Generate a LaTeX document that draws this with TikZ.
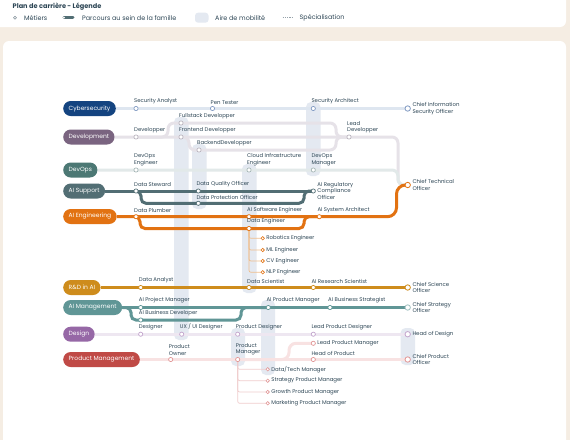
\documentclass[tikz,border=0pt]{standalone}
\usepackage{fontspec}
\setmainfont{Poppins}
\usepackage{tikz}
\usetikzlibrary{positioning,calc}
\definecolor{paper}{RGB}{245,237,227}
\definecolor{ink}{RGB}{45,70,85}
\definecolor{mobility}{RGB}{228,233,241}
\definecolor{cyberC}{RGB}{20,68,128}
\definecolor{devC}{RGB}{122,100,128}
\definecolor{devopsC}{RGB}{76,120,116}
\definecolor{supportC}{RGB}{82,110,116}
\definecolor{aiengC}{RGB}{226,114,18}
\definecolor{rndC}{RGB}{206,140,28}
\definecolor{mgmtC}{RGB}{96,150,150}
\definecolor{designC}{RGB}{150,104,166}
\definecolor{pmC}{RGB}{192,74,70}
\definecolor{cyberL}{RGB}{222,230,240}
\definecolor{devL}{RGB}{230,226,232}
\definecolor{devopsL}{RGB}{226,233,233}
\definecolor{designL}{RGB}{238,231,241}
\definecolor{pmL}{RGB}{248,226,226}
\definecolor{cyberR}{RGB}{130,155,195}
\definecolor{devR}{RGB}{185,180,190}
\definecolor{devopsR}{RGB}{165,182,182}
\definecolor{designR}{RGB}{195,165,205}
\definecolor{pmR}{RGB}{225,150,150}
\definecolor{specO}{RGB}{240,190,140}
\definecolor{specP}{RGB}{240,205,205}
\pgfdeclarelayer{paperlayer}
\pgfdeclarelayer{bars}
\pgfdeclarelayer{lines}
\pgfsetlayers{paperlayer,bars,lines,main}

\begin{document}
\begin{tikzpicture}[x=1pt, y=-1pt,
    every node/.style={font=\fontsize{5.4}{6.4}\selectfont, text=ink},
    family/.style={fill=#1, text=white, rounded corners=7.5pt, minimum height=15pt,
        inner xsep=5.5pt, inner ysep=0pt, anchor=west, font=\fontsize{6}{7}\selectfont},
    job/.style={circle, draw=#1, fill=white, line width=0.7pt, inner sep=0pt, minimum size=4.2pt},
    chief/.style={job=#1, minimum size=5.4pt, line width=0.8pt},
    spec/.style={job=#1, minimum size=3.4pt, line width=0.6pt},
    tlab/.style={label={[anchor=south west, inner sep=0pt, xshift=-2pt, yshift=1.5pt, align=left]north:#1}},
    rlab/.style={label={[anchor=west, inner sep=0pt, xshift=1.5pt, align=left]east:#1}},
    legtext/.style={anchor=west, inner sep=0pt, font=\fontsize{6.4}{7.5}\selectfont},
    track/.style={line width=3pt, draw=#1, rounded corners=6pt},
    branch/.style={line width=0.7pt, draw=#1, rounded corners=2pt},
    area/.style={fill=mobility, rounded corners=5pt},
]
\useasboundingbox (0,0) rectangle (570,440);

% Paper and panels
\begin{pgfonlayer}{paperlayer}
\fill[paper] (0,0) rectangle (570,440);
\fill[white, rounded corners=6pt] (-10,-10) rectangle (566,27);
\fill[white, rounded corners=6pt] (3,41) rectangle (566,460);
\end{pgfonlayer}

% Legend
\node[legtext, font=\fontsize{6.6}{7.5}\selectfont\bfseries] (legtitle) at (12.5,7) {Plan de carrière - Légende};
\draw[ink!60, line width=0.5pt] (15,17.7) circle (1.5pt);
\node[legtext] (legjobs) at (24,17.9) {Métiers};
\draw[supportC, line width=3pt, line cap=round] (64,17.7) -- (73,17.7);
\fill[white] (64,17.7) circle (1pt);
\node[legtext] (legpath) at (82,17.9) {Parcours au sein de la famille};
\fill[mobility, rounded corners=3pt] (195,12.7) rectangle (208.5,22.7);
\node[legtext] (legarea) at (215,17.9) {Aire de mobilité};
\draw[ink!50, line width=0.4pt, dash pattern=on 1.3pt off 1pt] (282.5,17.3) -- (292,17.3);
\node[legtext] (legspec) at (299.5,17.9) {Spécialisation};

% Mobility areas
\begin{pgfonlayer}{bars}
\fill[area] (174,117) rectangle (188.5,340);
\fill[area] (192,144) rectangle (206.5,209);
\fill[area] (242,164) rectangle (256.5,293);
\fill[area] (306,102) rectangle (320.5,176);
\fill[area] (231,328) rectangle (245,366);
\fill[area] (261,300) rectangle (275,375);
\fill[area] (400.5,328) rectangle (415,365);
\end{pgfonlayer}

% Families
\node[family=cyberC] (cyber) at (63,108.5) {Cybersecurity};
\node[family=devC] (dev) at (63,137) {Development};
\node[family=devopsC] (devops) at (63,170) {DevOps};
\node[family=supportC] (aisup) at (63,191) {AI Support};
\node[family=aiengC] (aieng) at (63,216.5) {AI Engineering};
\node[family=rndC] (rnd) at (63,287.5) {R\&D in AI};
\node[family=mgmtC] (aimgmt) at (63,307.5) {AI Management};
\node[family=designC] (design) at (63,334.2) {Design};
\node[family=pmC] (prodmgmt) at (63,359.5) {Product Management};

% Cybersecurity
\node[job=cyberR, tlab={Security Analyst}] (secanalyst) at (136,108.5) {};
\node[job=cyberR, tlab={Pen Tester}] (pentester) at (212.5,108.5) {};
\node[job=cyberR, tlab={Security Architect}] (secarch) at (313.3,108.5) {};
\node[chief=cyberR, rlab={Chief Information\\Security Officer}] (ciso) at (407.7,108.5) {};

% Development
\node[job=devR, tlab={Developper}] (developper) at (136,137) {};
\node[job=devR, tlab={Fullstack Developper}] (fullstack) at (181,123) {};
\node[job=devR, tlab={Frontend Developper}] (frontend) at (181,137) {};
\node[job=devR, tlab={BackendDevelopper}] (backend) at (199,150) {};
\node[job=devR, tlab={Lead\\Developper}] (leaddev) at (349,137) {};
\node[chief=aiengC, rlab={Chief Technical\\Officer}] (cto) at (407.7,185) {};

% DevOps
\node[job=devopsR, tlab={DevOps\\Engineer}] (devopseng) at (136,170) {};
\node[job=devopsR, tlab={Cloud Infrastructure\\Engineer}] (cloudeng) at (249,170) {};
\node[job=devopsR, tlab={DevOps\\Manager}] (devopsmgr) at (313.3,170) {};

% AI Support
\node[job=supportC, tlab={Data Steward}] (steward) at (136,191) {};
\node[job=supportC, tlab={Data Quality Officer}] (dqo) at (198.3,191) {};
\node[job=supportC, tlab={Data Protection Officer}] (dpo) at (198.3,203.3) {};
\node[job=supportC, rlab={AI Regulatory\\Compliance\\Officer}] (aireg) at (313.3,191) {};

% AI Engineering
\node[job=aiengC, tlab={Data Plumber}] (plumber) at (136,216.7) {};
\node[job=aiengC, tlab={AI Software Engineer}] (aisoft) at (249,216.7) {};
\node[job=aiengC, tlab={Data Engineer}] (dataeng) at (249,228.5) {};
\node[job=aiengC, tlab={AI System Architect}] (aisysarch) at (319.3,216.7) {};
\node[spec=aiengC, rlab={Robotics Engineer}] (robotics) at (262.7,238.3) {};
\node[spec=aiengC, rlab={ML Engineer}] (mleng) at (262.7,250) {};
\node[spec=aiengC, rlab={CV Engineer}] (cveng) at (262.7,261) {};
\node[spec=aiengC, rlab={NLP Engineer}] (nlpeng) at (262.7,272.3) {};

% R&D in AI
\node[job=rndC, tlab={Data Analyst}] (analyst) at (140.7,287.5) {};
\node[job=rndC, tlab={Data Scientist}] (scientist) at (249,287.5) {};
\node[job=rndC, tlab={AI Research Scientist}] (airesearch) at (313.3,287.5) {};
\node[chief=rndC, rlab={Chief Science\\Officer}] (cso) at (407.7,287.5) {};

% AI Management
\node[job=mgmtC, tlab={AI Project Manager}] (aipm) at (140.7,307.5) {};
\node[job=mgmtC, tlab={AI Business Developer}] (aibizdev) at (140.7,320) {};
\node[job=mgmtC, tlab={AI Product Manager}] (aiprodmgr) at (268.3,307.5) {};
\node[job=mgmtC, tlab={AI Business Strategist}] (aibizstrat) at (330,307.5) {};
\node[chief=mgmtC!60, rlab={Chief Strategy\\Officer}] (chiefstrat) at (407.7,307.5) {};

% Design
\node[job=designR, tlab={Designer}] (designer) at (140.7,334.2) {};
\node[job=designR, tlab={UX / UI Designer}] (uxui) at (181.7,334.2) {};
\node[job=designR, tlab={Product Designer}] (proddesigner) at (237.7,334.2) {};
\node[job=designR, tlab={Lead Product Designer}] (leaddesigner) at (313.3,334.2) {};
\node[chief=designR, rlab={Head of Design}] (headdesign) at (407.7,334.2) {};

% Product Management
\node[job=pmR, tlab={Product\\Owner}] (prodowner) at (170.7,359.5) {};
\node[job=pmR, tlab={Product\\Manager}] (prodmanager) at (237.7,359.5) {};
\node[job=pmR, rlab={Lead Product Manager}] (leadpm) at (313.3,343.3) {};
\node[job=pmR, tlab={Head of Product}] (headprod) at (313.3,359.5) {};
\node[chief=pmR, rlab={Chief Product\\Officer}] (cpo) at (407.7,359.5) {};
\node[spec=pmR, rlab={Data/Tech Manager}] (datatech) at (267.7,369.3) {};
\node[spec=pmR, rlab={Strategy Product Manager}] (strategypm) at (267.7,380.7) {};
\node[spec=pmR, rlab={Growth Product Manager}] (growthpm) at (267.7,392) {};
\node[spec=pmR, rlab={Marketing Product Manager}] (marketingpm) at (267.7,403.3) {};

% Tracks
\begin{pgfonlayer}{lines}
\draw[track=cyberL] (cyber.east) -- (secanalyst.center) -- (pentester.center) -- (secarch.center) -- (ciso.center);

\draw[track=devL] (dev.east) -- (developper.center) -- (frontend.center) -- (leaddev.center)
    -- (398,137) -- (398,185) -- (cto.center);
\draw[track=devL] (developper.center) -- (168,137) -- (168,123) -- (fullstack.center)
    -- (336,123) -- (336,137) -- (leaddev.center);
\draw[track=devL] (frontend.center) -- (189,137) -- (189,150) -- (backend.center)
    -- (336,150) -- (336,137) -- (leaddev.center);

\draw[track=devopsL] (devops.east) -- (devopseng.center) -- (cloudeng.center) -- (devopsmgr.center)
    -- (398,170) -- (398,185) -- (cto.center);

\draw[track=supportC] (aisup.east) -- (steward.center) -- (dqo.center) -- (aireg.center);
\draw[track=supportC, rounded corners=5pt] (steward.center) -- (141,191) -- (141,203.3) -- (dpo.center)
    -- (304,203.3) -- (304,191) -- (aireg.center);

\draw[track=aiengC, rounded corners=9pt] (aieng.east) -- (plumber.center) -- (aisoft.center) -- (aisysarch.center)
    -- (396.5,216.7) -- (396.5,185) -- (cto.center);
\draw[track=aiengC, rounded corners=5pt] (plumber.center) -- (140,216.7) -- (140,228.5) -- (dataeng.center)
    -- (304,228.5) -- (304,216.7) -- (aisysarch.center);
\foreach \s in {robotics,mleng,cveng,nlpeng}
    \draw[branch=specO] (dataeng.center) |- (\s.center);

\draw[track=rndC] (rnd.east) -- (analyst.center) -- (scientist.center) -- (airesearch.center) -- (cso.center);

\draw[track=mgmtC] (aimgmt.east) -- (aipm.center) -- (aiprodmgr.center) -- (aibizstrat.center) -- (chiefstrat.center);
\draw[track=mgmtC, rounded corners=5pt] (aimgmt.east) -- (131,307.5) -- (131,320) -- (aibizdev.center)
    -- (241,320) -- (241,307.5) -- (aiprodmgr.center);

\draw[track=designL] (design.east) -- (designer.center) -- (uxui.center) -- (proddesigner.center)
    -- (leaddesigner.center) -- (headdesign.center);

\draw[track=pmL] (prodmgmt.east) -- (prodowner.center) -- (prodmanager.center) -- (headprod.center) -- (cpo.center);
\draw[track=pmL, rounded corners=7pt] (prodmanager.center) -- (289,359.5) -- (289,343.3) -- (leadpm.center);
\foreach \s in {datatech,strategypm,growthpm,marketingpm}
    \draw[branch=specP] (prodmanager.center) |- (\s.center);
\end{pgfonlayer}
\end{tikzpicture}
\end{document}
